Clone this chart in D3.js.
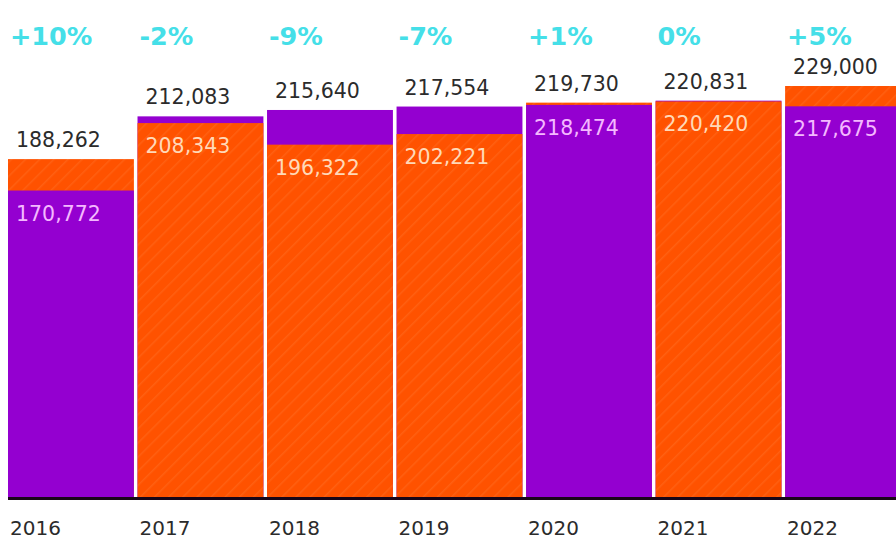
<!DOCTYPE html>
<html><head><meta charset="utf-8">
<script src="https://cdn.jsdelivr.net/npm/d3@7"></script>
<style>body{margin:0;background:#fff}svg{display:block}</style>
</head><body>
<svg id="c" width="896" height="541"></svg>
<script>
const years = ["2016","2017","2018","2019","2020","2021","2022"];
const purpleValues = [170772, 212083, 215640, 217554, 218474, 220831, 217675];
const orangeValues = [188262, 208343, 196322, 202221, 219730, 220420, 229000];
const pctLabels = ["+10%","-2%","-9%","-7%","+1%","0%","+5%"];

const W = 896, H = 541;
const svg = d3.select("#c");
const PURPLE = "#9400d0", ORANGE = "#ff5200";

const defs = svg.append("defs");
const pat = defs.append("pattern").attr("id","hatch").attr("patternUnits","userSpaceOnUse")
  .attr("width",10).attr("height",10).attr("patternTransform","rotate(45)");
pat.append("rect").attr("width",10).attr("height",10).attr("fill",ORANGE);
pat.append("line").attr("x1",0).attr("y1",0).attr("x2",0).attr("y2",10)
  .attr("stroke","rgba(255,235,200,0.09)").attr("stroke-width",3);

const x = d3.scaleBand().domain(years).range([8, 911]).paddingInner(0.028).paddingOuter(0);
const y = d3.scaleLinear().domain([0, 229000]).range([497, 86]);

const data = years.map((yr,i)=>({yr, p: purpleValues[i], o: orangeValues[i], pct: pctLabels[i]}));
const fmt = d3.format(",");

const g = svg.append("g");
data.forEach(d=>{
  const big = d.o >= d.p ? {v:d.o, c:"url(#hatch)"} : {v:d.p, c:PURPLE};
  const small = d.o >= d.p ? {v:d.p, c:PURPLE, t:"#f4b8ff"} : {v:d.o, c:"url(#hatch)", t:"#ffd9b8"};
  const x0 = x(d.yr), bw = x.bandwidth();
  g.append("rect").attr("x",x0).attr("width",bw).attr("y",y(big.v)).attr("height",y(0)-y(big.v)).attr("fill",big.c);
  g.append("rect").attr("x",x0).attr("width",bw).attr("y",y(small.v)).attr("height",y(0)-y(small.v)).attr("fill",small.c);
  g.append("text").attr("x",x0+8).attr("y",y(big.v)-12).text(fmt(big.v))
    .attr("font-family","DejaVu Sans").attr("font-size",20.5).attr("fill","#2b2b2b");
  g.append("text").attr("x",x0+8).attr("y",y(small.v)+30).text(fmt(small.v))
    .attr("font-family","DejaVu Sans").attr("font-size",20.5).attr("fill",small.t);
  g.append("text").attr("x",x0+2).attr("y",45).text(d.pct)
    .attr("font-family","DejaVu Sans").attr("font-weight","bold").attr("font-size",25.5).attr("fill","#45dfe8");
  g.append("text").attr("x",x0+2).attr("y",535).text(d.yr)
    .attr("font-family","DejaVu Sans").attr("font-size",20).attr("fill","#2b2b2b");
});

svg.append("line").attr("x1",8).attr("x2",W).attr("y1",498.5).attr("y2",498.5)
  .attr("stroke","#1a0618").attr("stroke-width",3);
</script>
</body></html>
